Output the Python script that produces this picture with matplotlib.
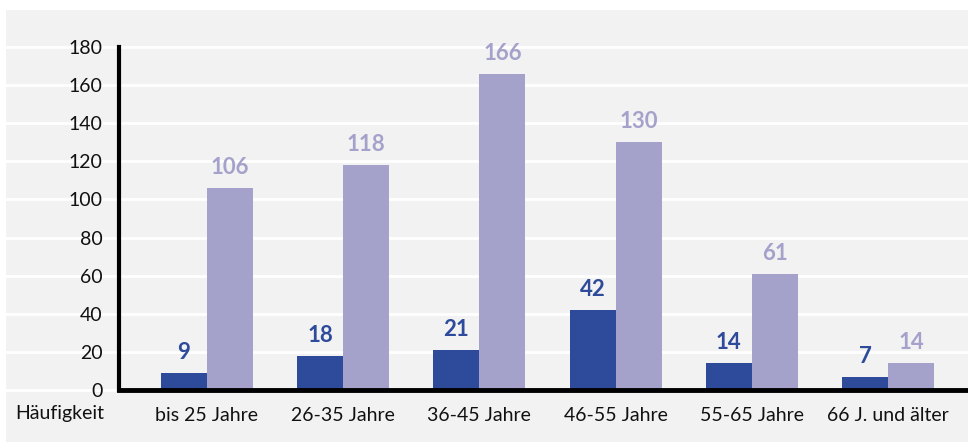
import matplotlib
matplotlib.use("Agg")
import matplotlib.pyplot as plt
from matplotlib.patches import Rectangle
import numpy as np

categories = ["bis 25 Jahre", "26-35 Jahre", "36-45 Jahre", "46-55 Jahre", "55-65 Jahre", "66 J. und älter"]
series_dark = [9, 18, 21, 42, 14, 7]
series_light = [106, 118, 166, 130, 61, 14]
y_ticks = [0, 20, 40, 60, 80, 100, 120, 140, 160, 180]
row_label = "Häufigkeit"

DARK = "#2E4A9A"
LIGHT = "#A4A2CB"
PANEL = "#F2F2F2"

plt.rcParams['font.family'] = ['Lato', 'DejaVu Sans']

W, H = 968, 442
fig = plt.figure(figsize=(W / 100, H / 100), dpi=100)
fig.patch.set_facecolor("white")
fig.patches.append(Rectangle((6 / W, 0), 1 - 6 / W, 432 / H, transform=fig.transFigure,
                             facecolor=PANEL, edgecolor="none", zorder=-5))

ax = fig.add_axes([119 / W, 52 / H, 1 - 119 / W, (390 - 47) / H])
ax.set_facecolor("none")

x = np.arange(len(categories))
bw = 0.338
ax.bar(x - bw / 2, series_dark, width=bw, color=DARK, zorder=3)
ax.bar(x + bw / 2, series_light, width=bw, color=LIGHT, zorder=3)

for xi, v in zip(x, series_dark):
    ax.annotate(str(v), (xi - bw / 2, v), xytext=(0, 10), textcoords="offset points",
                ha="center", va="baseline", fontsize=16, fontweight="bold", color=DARK, zorder=4)
for xi, v in zip(x, series_light):
    ax.annotate(str(v), (xi + bw / 2, v), xytext=(0, 10), textcoords="offset points",
                ha="center", va="baseline", fontsize=16, fontweight="bold", color=LIGHT, zorder=4)

ax.set_xlim(-0.646, 5.587)
ax.set_ylim(0, 180)
ax.set_yticks(y_ticks)
ax.set_xticks(x)
ax.set_xticklabels(categories)
ax.tick_params(axis="both", length=0, labelsize=14, labelcolor="#111111")
ax.tick_params(axis="y", pad=12)
ax.tick_params(axis="x", pad=12)

# white gridlines extending across the panel
tr = ax.get_yaxis_transform()
left_ext = -(119 - 6) / (W - 119)
for t in y_ticks:
    ax.plot([left_ext, 1], [t, t], transform=tr, color="white", lw=2, clip_on=False, zorder=1)

for s in ["top", "right"]:
    ax.spines[s].set_visible(False)
ax.spines["left"].set_linewidth(3)
ax.spines["bottom"].set_linewidth(3.5)
ax.spines["left"].set_zorder(5)
ax.spines["bottom"].set_zorder(5)

fig.text(60 / W, (H - 413) / H, row_label, ha="center", va="center", fontsize=14, color="#111111")

fig.savefig("out.png", dpi=100, facecolor=fig.get_facecolor())
